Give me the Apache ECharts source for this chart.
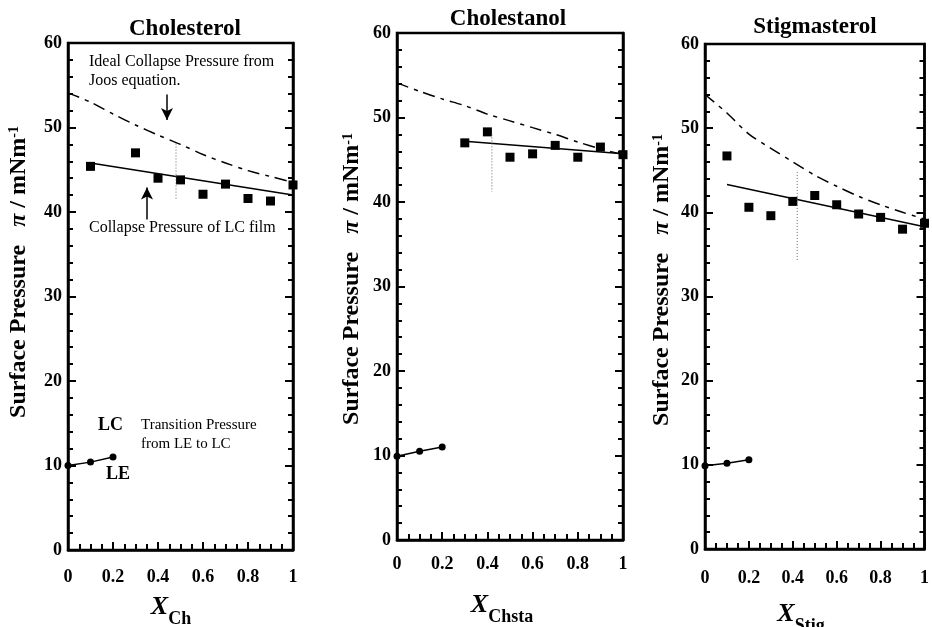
<!DOCTYPE html>
<html>
<head>
<meta charset="utf-8">
<script src="https://cdn.jsdelivr.net/npm/echarts@6/dist/echarts.min.js"></script>
<style>
  html, body { margin: 0; padding: 0; background: #fff; }
  #chart { width: 932px; height: 627px; }
</style>
</head>
<body>
<div id="chart"></div>
<script>
// x values
const collapseX = [0.1, 0.3, 0.4, 0.5, 0.6, 0.7, 0.8, 0.9, 1.0];
const stigCollapseX = [0.1, 0.2, 0.3, 0.4, 0.5, 0.6, 0.7, 0.8, 0.9, 1.0];
const chstaCollapseX = [0.3, 0.4, 0.5, 0.6, 0.7, 0.8, 0.9, 1.0];
const idealX = [0, 0.1, 0.2, 0.3, 0.4, 0.5, 0.6, 0.7, 0.8, 0.9, 1.0];
const transX = [0, 0.1, 0.2];

// Cholesterol
const chCollapse = [45.4, 47.0, 44.0, 43.8, 42.1, 43.3, 41.6, 41.3, 43.2];
const chFit = [[0.1, 45.8], [1.0, 42.0]];
const chIdeal = [54.1, 53.0, 51.6, 50.3, 49.1, 48.0, 46.8, 45.8, 44.9, 44.2, 43.5];
const chTrans = [10.0, 10.4, 11.0];
const chMark = [[0.48, 48.1], [0.48, 41.5]];

// Cholestanol
const chstaCollapse = [47.0, 48.3, 45.3, 45.7, 46.7, 45.3, 46.5, 45.6];
const chstaFit = [[0.3, 47.2], [1.0, 45.7]];
const chstaIdeal = [54.1, 53.1, 52.2, 51.4, 50.4, 49.6, 48.8, 48.0, 47.1, 46.3, 45.6];
const chstaTrans = [9.9, 10.5, 11.0];
const chstaMark = [[0.42, 48.0], [0.42, 41.2]];

// Stigmasterol
const stigCollapse = [46.7, 40.6, 39.6, 41.3, 42.0, 40.9, 39.8, 39.4, 38.0, 38.7];
const stigFit = [[0.1, 43.3], [1.0, 38.3]];
const stigIdeal = [54.0, 51.8, 49.3, 47.6, 46.0, 44.4, 43.1, 41.9, 40.9, 40.0, 39.2];
const stigTrans = [9.9, 10.2, 10.6];
const stigMark = [[0.42, 44.8], [0.42, 34.2]];

// annotation arrows (data coords, panel 1)
const arrowIdeal = [[0.44, 53.9], [0.44, 50.9]];
const arrowCollapse = [[0.351, 39.1], [0.351, 42.9]];

const titles = ['Cholesterol', 'Cholestanol', 'Stigmasterol'];
const subs = ['Ch', 'Chsta', 'Stig'];

const serif = '"Liberation Serif", "DejaVu Serif", serif';

function zip(xs, ys) {
    return xs.map(function (x, i) { return [x, ys[i]]; });
}

const panels = [
    { cx: collapseX, c: chCollapse, fit: chFit, ideal: chIdeal, trans: chTrans, mark: chMark },
    { cx: chstaCollapseX, c: chstaCollapse, fit: chstaFit, ideal: chstaIdeal, trans: chstaTrans, mark: chstaMark },
    { cx: stigCollapseX, c: stigCollapse, fit: stigFit, ideal: stigIdeal, trans: stigTrans, mark: stigMark }
];

const grids = [
    { left: 68, top: 43, width: 225, height: 507 },
    { left: 397, top: 33, width: 226, height: 507 },
    { left: 705, top: 44, width: 225, height: 505 }
];
const xMargins = [18, 15, 20];

let xAxes = [], yAxes = [], series = [];
grids.forEach(function (g, i) {
    g.show = true;
    g.borderColor = '#000';
    g.borderWidth = 2.5;
    xAxes.push({
        gridIndex: i, type: 'value', min: 0, max: 1, interval: 0.2,
        axisLine: { show: true, onZero: false, lineStyle: { color: '#000', width: 2.5 } },
        axisTick: { inside: true, length: 8, lineStyle: { color: '#000', width: 2 } },
        minorTick: { show: true, splitNumber: 4, length: 6, lineStyle: { color: '#000', width: 2 } },
        splitLine: { show: false },
        axisLabel: { color: '#000', fontFamily: serif, fontWeight: 'bold', fontSize: 18, margin: xMargins[i] }
    });
});
['left', 'right'].forEach(function (pos) {
    grids.forEach(function (g, i) {
        yAxes.push({
            gridIndex: i, type: 'value', min: 0, max: 60, interval: 10, position: pos,
            axisLine: { show: true, onZero: false, lineStyle: { color: '#000', width: 2.5 } },
            axisTick: { inside: true, length: 8, lineStyle: { color: '#000', width: 2 } },
            minorTick: { show: true, splitNumber: 5, length: 5, lineStyle: { color: '#000', width: 2 } },
            splitLine: { show: false },
            axisLabel: { show: pos === 'left', color: '#000', fontFamily: serif, fontWeight: 'bold', fontSize: 18, margin: 6 }
        });
    });
});

panels.forEach(function (p, i) {
    series.push({
        type: 'line', xAxisIndex: i, yAxisIndex: i, data: zip(idealX, p.ideal),
        showSymbol: false, smooth: 0.3, silent: true,
        lineStyle: { color: '#000', width: 1.5, type: [12, 6, 4, 6] }
    });
    series.push({
        type: 'line', xAxisIndex: i, yAxisIndex: i, data: p.fit,
        showSymbol: false, silent: true,
        lineStyle: { color: '#000', width: 1.5 }
    });
    series.push({
        type: 'line', xAxisIndex: i, yAxisIndex: i, data: p.mark,
        showSymbol: false, silent: true,
        lineStyle: { color: '#666', width: 1, type: [1, 2] }
    });
    series.push({
        type: 'scatter', xAxisIndex: i, yAxisIndex: i, data: zip(p.cx, p.c),
        symbol: 'rect', symbolSize: 9, silent: true,
        itemStyle: { color: '#000', opacity: 1 }
    });
    series.push({
        type: 'line', xAxisIndex: i, yAxisIndex: i, data: zip(transX, p.trans),
        symbol: 'circle', symbolSize: 7, showAllSymbol: true, silent: true,
        lineStyle: { color: '#000', width: 1.5 }, itemStyle: { color: '#000' }
    });
});

// arrows for panel 1
series.push({
    type: 'line', xAxisIndex: 0, yAxisIndex: 0, data: [], silent: true,
    markLine: {
        silent: true, symbol: ['none', 'arrow'], symbolSize: [9, 12],
        label: { show: false },
        lineStyle: { color: '#000', width: 1.5, type: 'solid' },
        data: [
            [{ coord: arrowIdeal[0] }, { coord: arrowIdeal[1] }],
            [{ coord: arrowCollapse[0] }, { coord: arrowCollapse[1] }]
        ]
    }
});

const titlePos = [[185, 29], [508, 19], [815, 27]];
const yNamePos = [[18.5, 272], [352, 279], [662, 280]];
const xNamePos = [[171, 611], [502, 609], [801, 618]];

let graphics = [];
titles.forEach(function (t, i) {
    graphics.push({
        type: 'text', x: titlePos[i][0], y: titlePos[i][1],
        style: { text: t, fill: '#000', font: 'bold 23px ' + serif, align: 'center', verticalAlign: 'middle' }
    });
    graphics.push({
        type: 'text', x: yNamePos[i][0], y: yNamePos[i][1], rotation: Math.PI / 2,
        style: {
            text: '{t|Surface Pressure   }{p|π}{t| / mNm}{s|-1}',
            align: 'center', verticalAlign: 'middle',
            rich: {
                t: { fontFamily: serif, fontWeight: 'bold', fontSize: 24, lineHeight: 22, verticalAlign: 'middle', fill: '#000' },
                p: { fontFamily: serif, fontWeight: 'bold', fontStyle: 'italic', fontSize: 24, lineHeight: 22, verticalAlign: 'middle', fill: '#000' },
                s: { fontFamily: serif, fontWeight: 'bold', fontSize: 14, lineHeight: 14, verticalAlign: 'top', fill: '#000' }
            }
        }
    });
    graphics.push({
        type: 'text', x: xNamePos[i][0], y: xNamePos[i][1],
        style: {
            text: '{a|X}{b|' + subs[i] + '}',
            align: 'center', verticalAlign: 'middle',
            rich: {
                a: { fontFamily: serif, fontWeight: 'bold', fontStyle: 'italic', fontSize: 26, lineHeight: 34, verticalAlign: 'top', fill: '#000' },
                b: { fontFamily: serif, fontWeight: 'bold', fontSize: 18, lineHeight: 18, verticalAlign: 'bottom', fill: '#000' }
            }
        }
    });
});

const notes = [
    ['Ideal Collapse Pressure from', 89, 62, '16px'],
    ['Joos equation.', 89, 81, '16px'],
    ['Collapse Pressure of LC film', 89, 228, '16px'],
    ['Transition Pressure', 141, 425, '15px'],
    ['from LE to LC', 141, 444, '15px']
];
notes.forEach(function (n) {
    graphics.push({
        type: 'text', x: n[1], y: n[2],
        style: { text: n[0], fill: '#000', font: n[3] + ' ' + serif, align: 'left', verticalAlign: 'middle' }
    });
});
graphics.push({ type: 'text', x: 98, y: 425, style: { text: 'LC', fill: '#000', font: 'bold 18px ' + serif, verticalAlign: 'middle' } });
graphics.push({ type: 'text', x: 106, y: 474, style: { text: 'LE', fill: '#000', font: 'bold 18px ' + serif, verticalAlign: 'middle' } });

const myChart = echarts.init(document.getElementById('chart'), null, { renderer: 'canvas' });
myChart.setOption({
    backgroundColor: '#fff',
    animation: false,
    grid: grids,
    xAxis: xAxes,
    yAxis: yAxes,
    series: series,
    graphic: graphics
});
</script>
</body>
</html>
